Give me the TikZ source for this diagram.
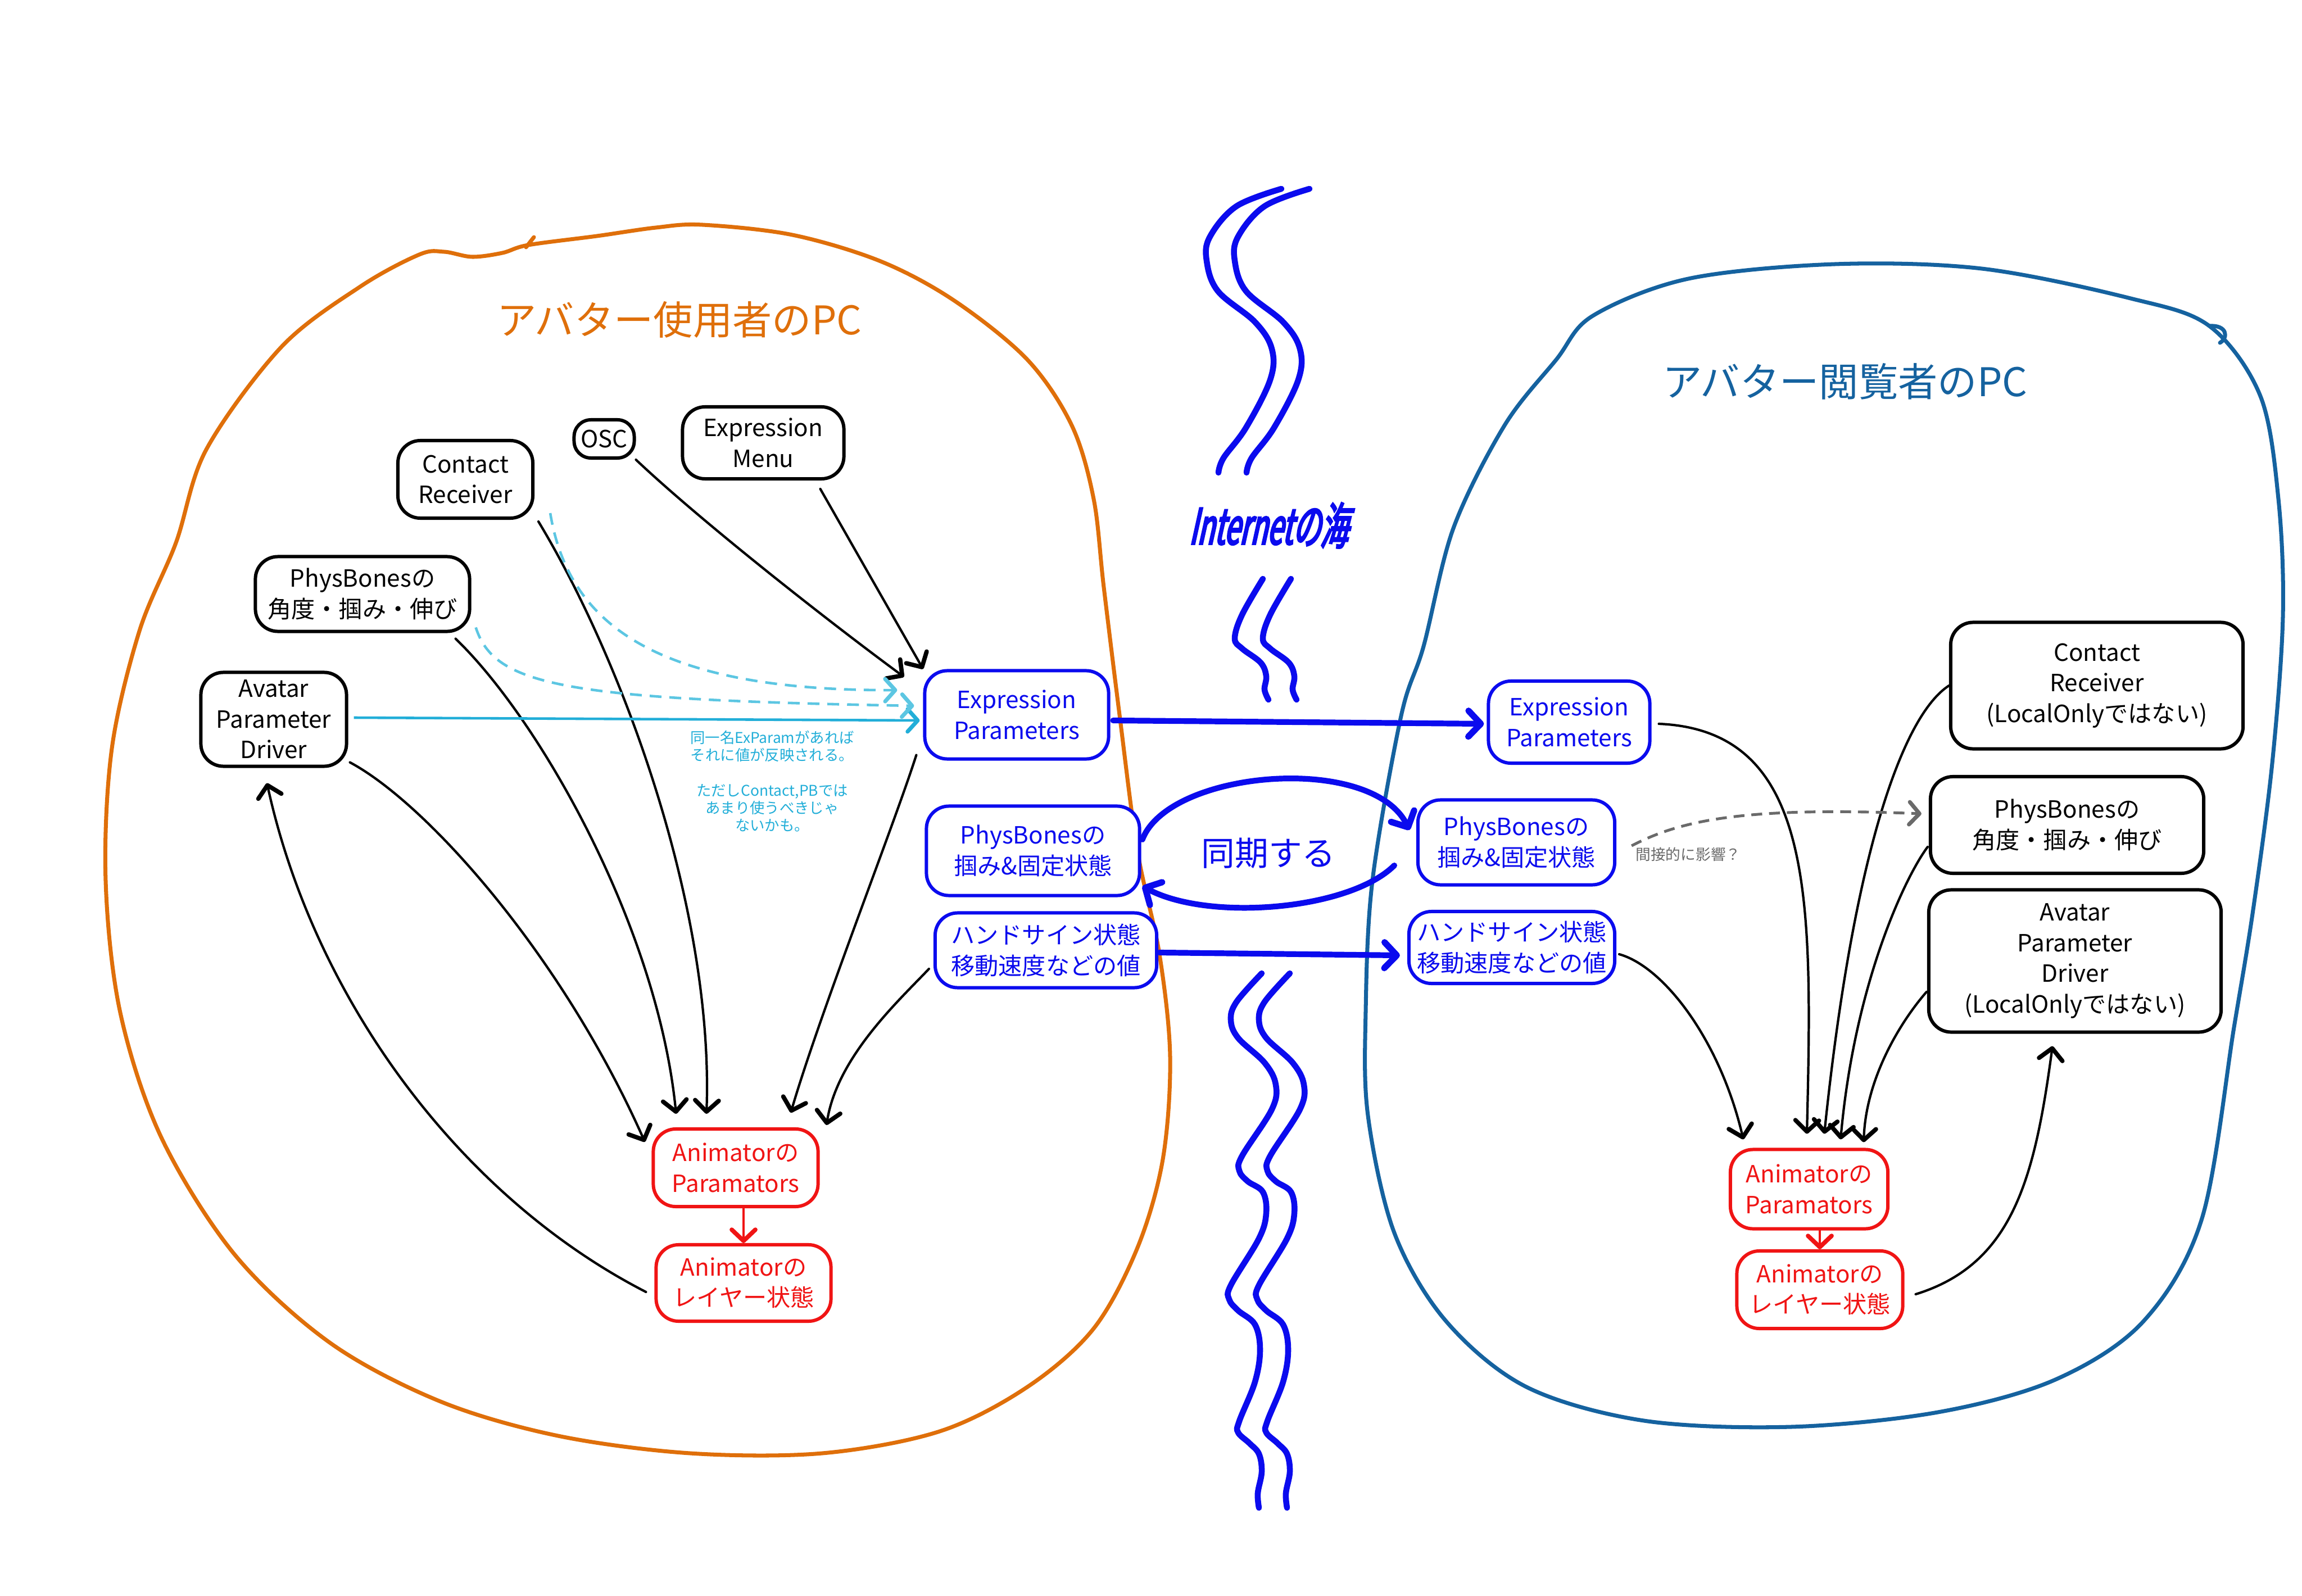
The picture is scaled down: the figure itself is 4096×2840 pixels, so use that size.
\documentclass[tikz,border=0pt]{standalone}
\usepackage{fontspec}
\setmainfont{Noto Sans CJK JP}
\newfontfamily\seafont[FakeSlant=0.22,FakeStretch=0.56,FakeBold=3.5]{Noto Sans CJK JP}
\usetikzlibrary{arrows.meta}
\definecolor{userorange}{HTML}{DF6F0A}
\definecolor{viewerblue}{HTML}{15629F}
\definecolor{syncblue}{HTML}{0B0BEE}
\definecolor{animred}{HTML}{F01414}
\definecolor{notecyan}{HTML}{22AED8}
\definecolor{notedash}{HTML}{5CC6E2}
\definecolor{hintgray}{HTML}{6A6A6A}
\tikzset{
  pcbox/.style={
    rounded corners=0.4cm,
    fill=white,
    line width=1.7pt,
    inner sep=0pt,
    align=center,
    font=\fontsize{12}{15.5}\selectfont
  },
  localbox/.style={pcbox, draw=black, text=black},
  syncbox/.style={pcbox, draw=syncblue, text=syncblue},
  animbox/.style={pcbox, draw=animred, text=animred},
  pcblob/.style={line width=2pt, line join=round},
  seawave/.style={draw=syncblue, line width=3pt, line cap=round},
  feed/.style={line width=1.2pt, line cap=round,
    -{Straight Barb[length=0.2cm,width=0.42cm,line width=2.2pt,round]}},
  animfeed/.style={feed, draw=animred},
  notefeed/.style={line width=1.3pt, draw=notecyan,
    -{Straight Barb[length=0.18cm,width=0.4cm,line width=2pt,round]}},
  notedashed/.style={notefeed, draw=notedash, dash pattern=on 6pt off 4pt},
  hintdashed/.style={line width=1.4pt, draw=hintgray, dash pattern=on 5.5pt off 3.5pt,
    -{Straight Barb[length=0.18cm,width=0.4cm,line width=2pt,round]}},
  netsync/.style={line width=2.9pt, draw=syncblue, line cap=round,
    -{Straight Barb[length=0.22cm,width=0.46cm,line width=3.2pt,round]}},
  pctitle/.style={font=\fontsize{20}{24}\selectfont},
  notetext/.style={text=notecyan, align=center, font=\fontsize{7.5}{8.9}\selectfont}
}
\begin{document}
\begin{tikzpicture}[x=0.01cm,y=-0.01cm]
  \useasboundingbox (0,0) rectangle (4096,2840);
  % the two PCs
  \draw[pcblob, draw=userorange] plot[smooth cycle, tension=0.55] coordinates {
    (367,800) (501,617) (641,510) (746,453) (790,448) (840,457) (894,450) (940,436)
    (1062,420) (1167,405) (1250,400) (1410,418) (1567,465) (1698,535) (1828,640)
    (1907,757) (1946,888) (1964,1045) (1993,1280) (2024,1515) (2063,1698) (2082,1881)
    (2069,2063) (2024,2220) (1946,2364) (1828,2468) (1672,2547) (1463,2586) (1228,2586)
    (993,2555) (784,2494) (588,2390) (418,2233) (287,2024) (214,1802) (188,1567)
    (199,1332) (248,1123) (313,966)};
  \draw[pcblob, draw=userorange, line cap=round] (936,440) -- (950,422);
  \draw[pcblob, draw=viewerblue] plot[smooth cycle, tension=0.55] coordinates {
    (2834,562) (3004,496) (3265,470) (3526,478) (3787,530) (3931,580) (4022,705)
    (4054,888) (4062,1097) (4043,1358) (4009,1619) (3975,1828) (3918,2168) (3814,2351)
    (3657,2455) (3448,2513) (3187,2539) (2925,2528) (2716,2468) (2573,2351) (2481,2194)
    (2434,1985) (2430,1800) (2442,1567) (2493,1274) (2533,1150) (2586,940) (2677,757)
    (2769,640)};
  \draw[pcblob, draw=viewerblue, line cap=round] (3931,580) .. controls (3962,578) and (3966,600) .. (3950,610);
  \node[pctitle, text=userorange] (usertitle) at (1209,569) {アバター使用者のPC};
  \node[pctitle, text=viewerblue] (viewertitle) at (3283,679) {アバター閲覧者のPC};
  % the sea between them
  \foreach \dx in {0,50} {
    \draw[seawave, shift={(\dx,0)}] plot[smooth, tension=0.6] coordinates {
      (2280,336) (2200,367) (2153,421) (2147,464) (2167,518) (2233,573) (2263,621)
      (2260,676) (2217,761) (2177,815) (2168,841)};
    \draw[seawave, shift={(\dx,0)}] plot[smooth, tension=0.6] coordinates {
      (2247,1030) (2210,1094) (2197,1136) (2210,1154) (2243,1179) (2253,1203)
      (2250,1227) (2257,1245)};
    \draw[seawave, shift={(\dx,0)}] plot[smooth, tension=0.6] coordinates {
      (2245,1732) (2200,1783) (2190,1815) (2203,1847) (2250,1891) (2270,1930)
      (2263,1974) (2210,2057) (2205,2083) (2220,2102) (2247,2121) (2253,2159)
      (2240,2204) (2190,2287) (2187,2312) (2203,2332) (2233,2357) (2242,2402)
      (2233,2459) (2205,2529) (2203,2549) (2223,2568) (2240,2587) (2245,2619)
      (2238,2657) (2240,2683)};
  }
  \node[text=syncblue, font=\seafont\fontsize{25}{27}\selectfont] (sea) at (2257,935) {Internetの海};
  % avatar user side
  \node[localbox, minimum width=2.40cm, minimum height=1.38cm] (lcontact) at (828,853) {Contact\\Receiver};
  \node[localbox, rounded corners=0.3cm, minimum width=1.07cm, minimum height=0.68cm] (osc) at (1075,781) {OSC};
  \node[localbox, minimum width=2.87cm, minimum height=1.28cm] (exmenu) at (1358,788) {Expression\\Menu};
  \node[localbox, minimum width=3.81cm, minimum height=1.33cm] (lpb) at (645,1057) {PhysBonesの\\角度・掴み・伸び};
  \node[localbox, minimum width=2.59cm, minimum height=1.67cm] (lapd) at (487,1280) {Avatar\\Parameter\\Driver};
  \node[syncbox, minimum width=3.27cm, minimum height=1.57cm] (lexp) at (1809,1272) {Expression\\Parameters};
  \node[syncbox, minimum width=3.79cm, minimum height=1.59cm] (lpbgrab) at (1838,1514) {PhysBonesの\\掴み\&固定状態};
  \node[syncbox, minimum width=3.94cm, minimum height=1.33cm] (lhand) at (1861,1691) {ハンドサイン状態\\移動速度などの値};
  \node[animbox, minimum width=2.93cm, minimum height=1.38cm] (lanim) at (1309,2078) {Animatorの\\Paramators};
  \node[animbox, minimum width=3.11cm, minimum height=1.36cm] (llayer) at (1323,2283) {Animatorの\\レイヤー状態};
  \node[notetext] (note) at (1374,1390) {同一名ExParamがあれば\\それに値が反映される。\\[8.9pt]ただしContact,PBでは\\あまり使うべきじゃ\\ないかも。};
  % avatar viewer side
  \node[syncbox, minimum width=2.87cm, minimum height=1.46cm] (rexp) at (2792,1285) {Expression\\Parameters};
  \node[syncbox, minimum width=3.50cm, minimum height=1.51cm] (rpbgrab) at (2698,1499) {PhysBonesの\\掴み\&固定状態};
  \node[syncbox, minimum width=3.66cm, minimum height=1.28cm] (rhand) at (2690,1686) {ハンドサイン状態\\移動速度などの値};
  \node[localbox, minimum width=5.20cm, minimum height=2.25cm] (rcontact) at (3731,1220) {Contact\\Receiver\\(LocalOnlyではない)};
  \node[localbox, minimum width=4.86cm, minimum height=1.72cm] (rpb) at (3678,1468) {PhysBonesの\\角度・掴み・伸び};
  \node[localbox, minimum width=5.20cm, minimum height=2.53cm] (rapd) at (3692,1710) {Avatar\\Parameter\\Driver\\(LocalOnlyではない)};
  \node[animbox, minimum width=2.80cm, minimum height=1.41cm] (ranim) at (3219,2116) {Animatorの\\Paramators};
  \node[animbox, minimum width=2.95cm, minimum height=1.38cm] (rlayer) at (3238,2295) {Animatorの\\レイヤー状態};
  \node[text=syncblue, font=\fontsize{17}{20}\selectfont] (sync) at (2257,1518) {同期する};
  \node[text=hintgray, font=\fontsize{7.6}{9}\selectfont] (indirect) at (3004,1520) {間接的に影響？};
  % local inputs
  \draw[feed] (osc.south east) .. controls (1250,930) and (1480,1110) .. ([shift={(-34,14)}]lexp.north west);
  \draw[feed] ([shift={(-45,15)}]exmenu.south east) -- (lexp.north west);
  \draw[feed] ([shift={(7,3)}]lcontact.south east) .. controls (1110,1180) and (1270,1620) .. ([shift={(-52,-24)}]lanim.north);
  \draw[feed] ([shift={(-28,10)}]lpb.south east) .. controls (960,1280) and (1170,1650) .. ([shift={(-106,-24)}]lanim.north);
  \draw[feed] ([shift={(3,-10)}]lapd.south east) .. controls (760,1430) and (1000,1700) .. ([shift={(-12,26)}]lanim.north west);
  \draw[feed] ([shift={(-12,-10)}]lexp.south west) .. controls (1590,1470) and (1460,1800) .. ([shift={(98,-26)}]lanim.north);
  \draw[feed] ([shift={(-8,33)}]lhand.west) .. controls (1600,1780) and (1490,1880) .. ([shift={(12,-4)}]lanim.north east);
  \draw[feed] ([shift={(-15,16)}]llayer.west) .. controls (820,2130) and (560,1780) .. ([shift={(-12,27)}]lapd.south);
  \draw[animfeed] (lanim.south -| llayer.north) -- (llayer.north);
  \draw[notefeed] ([shift={(10,-3)}]lapd.east) -- ([shift={(-6,10)}]lexp.west);
  \draw[notedashed] ([shift={(28,-12)}]lcontact.south east) .. controls (1010,1100) and (1150,1230) .. ([shift={(-46,-44)}]lexp.west);
  \draw[notedashed] ([shift={(8,-10)}]lpb.south east) .. controls (880,1220) and (1000,1245) .. ([shift={(-16,-16)}]lexp.west);
  % over the internet
  \draw[netsync] ([shift={(5,10)}]lexp.east) -- ([shift={(-5,3)}]rexp.west);
  \draw[netsync] ([shift={(2,-20)}]lpbgrab.east) .. controls (2080,1370) and (2440,1340) .. ([shift={(-12,-22)}]rpbgrab.west);
  \draw[netsync] ([shift={(-39,41)}]rpbgrab.west) .. controls (2400,1620) and (2150,1640) .. ([shift={(2,63)}]lpbgrab.east);
  \draw[netsync] ([shift={(2,4)}]lhand.east) -- ([shift={(-13,14)}]rhand.west);
  % remote inputs
  \draw[feed] ([shift={(13,3)}]rexp.east) .. controls (3230,1300) and (3225,1600) .. ([shift={(-4,-25)}]ranim.north);
  \draw[feed] ([shift={(5,12)}]rhand.east) .. controls (2960,1720) and (3060,1850) .. ([shift={(26,-15)}]ranim.north west);
  \draw[feed] (rcontact.west) .. controls (3390,1270) and (3300,1500) .. ([shift={(27,-25)}]ranim.north);
  \draw[feed] ([shift={(-2,39)}]rpb.west) .. controls (3390,1560) and (3300,1750) .. ([shift={(56,-15)}]ranim.north);
  \draw[feed] ([shift={(-1,55)}]rapd.west) .. controls (3380,1820) and (3320,1920) .. ([shift={(-46,-10)}]ranim.north east);
  \draw[feed] ([shift={(20,8)}]rlayer.east) .. controls (3580,2250) and (3620,2100) .. ([shift={(-40,22)}]rapd.south);
  \draw[animfeed] (ranim.south -| rlayer.north) -- (rlayer.north);
  \draw[hintdashed] ([shift={(27,6)}]rpbgrab.east) .. controls (2990,1460) and (3100,1435) .. ([shift={(-13,-20)}]rpb.west);
\end{tikzpicture}
\end{document}
